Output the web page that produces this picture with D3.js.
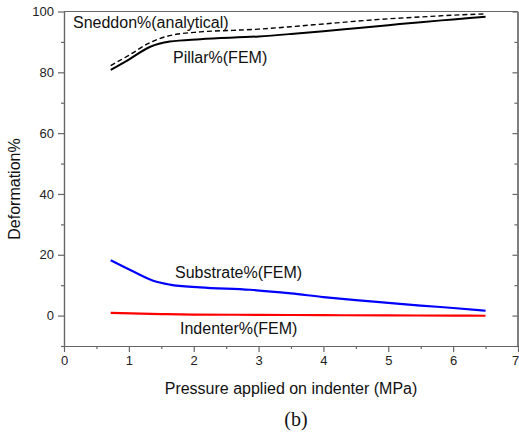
<!DOCTYPE html>
<html>
<head>
<meta charset="utf-8">
<script src="https://cdn.jsdelivr.net/npm/d3@7"></script>
<style>
  body { margin: 0; background: #fff; }
  svg { display: block; }
  text { font-family: "Liberation Sans", Arial, sans-serif; }
</style>
</head>
<body>
<svg></svg>
<script>
// values
let pillar = [[0.72,80.8],[1.0,84.2],[1.33,88.4],[1.63,90.1],[2.1,90.9],[3.0,91.8],[3.5,92.6],[4.0,93.5],[4.5,94.5],[5.0,95.5],[5.5,96.5],[6.0,97.4],[6.5,98.3]]
let sneddon = [[0.72,82.2],[1.0,85.6],[1.33,89.8],[1.58,91.8],[2.1,93.3],[2.6,93.8],[3.0,94.2],[3.5,95.0],[4.0,95.9],[4.5,96.8],[5.0,97.6],[5.5,98.2],[6.0,98.8],[6.5,99.2]]
let substrate = [[0.72,18.2],[1.07,14.5],[1.4,11.3],[1.63,10.2],[2.1,9.3],[2.87,8.5],[3.5,7.3],[4.0,6.1],[4.5,5.1],[5.0,4.2],[5.5,3.3],[6.0,2.5],[6.5,1.6]]
let indenter = [[0.72,0.9],[1.5,0.5],[2.0,0.35],[3.0,0.25],[4.0,0.15],[5.0,0.05],[6.0,0.0],[6.5,-0.05]]

let xTicks = [0,1,2,3,4,5,6,7]
let xMinor = [0.5,1.5,2.5,3.5,4.5,5.5,6.5]
let yTicks = [0,20,40,60,80,100]
let yMinor = [-10,10,30,50,70,90]

let width = 519
let height = 435
let padL = 64, padR = 518, padT = 11.5, padB = 346

let svg = d3.select('svg').attr("width",width).attr("height",height)

let xScale = d3.scaleLinear().domain([0,7]).range([padL,padR])
let yScale = d3.scaleLinear().domain([-10,100]).range([padB,padT])

let axisColor = "#666"

// frame
svg.append("line").attr("x1",padL).attr("x2",padR).attr("y1",padT).attr("y2",padT)
    .attr("stroke",axisColor).attr("stroke-width",1.2)

let drawAxis = (axis, tr, cls) => {
    let g = svg.append("g").attr("class",cls).attr("transform",tr).call(axis)
    g.selectAll("path,line").attr("stroke",axisColor).attr("stroke-width",1.2)
    g.selectAll("text").attr("fill","#222").style("font-size","13px")
    return g
}

// bottom
drawAxis(d3.axisBottom(xScale).tickValues(xMinor).tickSize(3).tickFormat("").tickSizeOuter(0),
    "translate(0,"+padB+")","xminor")
let xg = drawAxis(d3.axisBottom(xScale).tickValues(xTicks).tickSize(6).tickPadding(4).tickFormat(d3.format("d")).tickSizeOuter(0),
    "translate(0,"+padB+")","x-axis")
// last label sits on the page edge, nudge it in
xg.selectAll("text").filter(d => d == 7).attr("dx",-3)

// left
drawAxis(d3.axisLeft(yScale).tickValues(yMinor).tickSize(3).tickFormat("").tickSizeOuter(0),
    "translate("+padL+",0)","yminor")
drawAxis(d3.axisLeft(yScale).tickValues(yTicks).tickSize(6).tickPadding(4).tickFormat(d3.format("d")).tickSizeOuter(0),
    "translate("+padL+",0)","y-axis")

// right (ticks inward)
drawAxis(d3.axisRight(yScale).tickValues(yMinor).tickSize(-3).tickFormat("").tickSizeOuter(0),
    "translate("+(padR-0.5)+",0)","rminor")
drawAxis(d3.axisRight(yScale).tickValues(yTicks).tickSize(-5).tickFormat("").tickSizeOuter(0),
    "translate("+(padR-0.5)+",0)","rmajor")

let line = d3.line().x(d => xScale(d[0])).y(d => yScale(d[1])).curve(d3.curveMonotoneX)

let drawLine = (data, color, w, dash) => {
    svg.append("path").datum(data).attr("d",line)
        .attr("fill","none").attr("stroke",color).attr("stroke-width",w)
        .attr("stroke-dasharray",dash)
}

drawLine(sneddon,"#000",1.4,"5,3")
drawLine(pillar,"#000",2,null)
drawLine(substrate,"#0000ff",2.2,null)
drawLine(indenter,"#ff0000",2.2,null)

// curve labels
let labels = [
    {t:"Sneddon%(analytical)", x:73, y:28},
    {t:"Pillar%(FEM)", x:173, y:63},
    {t:"Substrate%(FEM)", x:175, y:278},
    {t:"Indenter%(FEM)", x:180, y:334}
]
svg.selectAll(".lbl").data(labels).enter().append("text")
    .attr("class","lbl").attr("x",d => d.x).attr("y",d => d.y)
    .style("font-size","16px").attr("fill","#111").text(d => d.t)

// axis titles
svg.append("text").attr("x",(padL+padR)/2).attr("y",394).attr("text-anchor","middle")
    .style("font-size","16px").attr("fill","#111").text("Pressure applied on indenter (MPa)")

svg.append("text").attr("transform","translate(20,189) rotate(-90)").attr("text-anchor","middle")
    .style("font-size","16px").attr("fill","#111").text("Deformation%")

svg.append("text").attr("x",296).attr("y",426).attr("text-anchor","middle")
    .style("font-family","'Liberation Serif','Times New Roman',serif").style("font-size","20px")
    .attr("fill","#111").text("(b)")
</script>
</body>
</html>
